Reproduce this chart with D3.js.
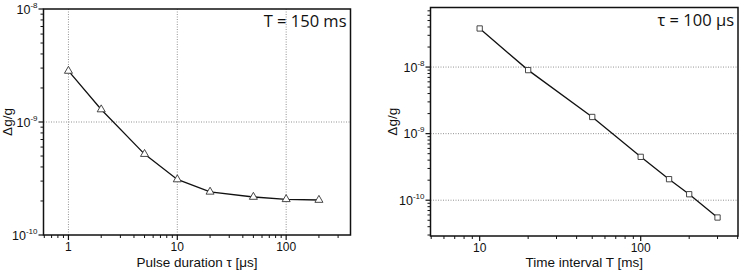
<!DOCTYPE html>
<html>
<head>
<meta charset="utf-8">
<script src="https://cdn.jsdelivr.net/npm/d3@7"></script>
<style>
  body { margin: 0; background: #fff; }
  svg text { font-family: "Liberation Sans", Arial, sans-serif; fill: #111; }
  .note { font-family: "Open Sans", "Noto Sans", sans-serif; }
</style>
</head>
<body>
<svg id="fig" width="739" height="271"></svg>
<script>
// Left panel: sensitivity vs pulse duration (T = 150 ms)
const tauValues  = [1, 2, 5, 10, 20, 50, 100, 200];
const tauDgg     = [2.83e-9, 1.29e-9, 5.2e-10, 3.1e-10, 2.41e-10, 2.17e-10, 2.07e-10, 2.04e-10];
const tauXTicks  = [1, 10, 100];
const tauYTicks  = [1e-10, 1e-9, 1e-8];

// Right panel: sensitivity vs time interval (tau = 100 us)
const tValues    = [10, 20, 50, 100, 150, 200, 300];
const tDgg       = [3.8e-8, 9.0e-9, 1.78e-9, 4.48e-10, 2.07e-10, 1.23e-10, 5.5e-11];
const tXTicks    = [10, 100];
const tYTicks    = [1e-10, 1e-9, 1e-8];

const svg = d3.select('#fig');

//------------------------------------------------------------------------
// minor ticks for a log axis between the domain ends
function minorTicks(domain) {
    let out = [];
    let lo = Math.floor(Math.log10(domain[0])), hi = Math.ceil(Math.log10(domain[1]));
    for (let e = lo; e <= hi; e++) {
        for (let m = 1; m < 10; m++) {
            let v = m * Math.pow(10, e);
            if (v >= domain[0] * 0.999 && v <= domain[1] * 1.001) out.push(v);
        }
    }
    return out;
}

//------------------------------------------------------------------------
function drawPanel(p) {
    const g = svg.append('g');
    const x = d3.scaleLog().domain(p.xDomain).range([p.left, p.right]);
    const y = d3.scaleLog().domain(p.yDomain).range([p.bottom, p.top]);

    // grid lines
    g.selectAll('.vgrid').data(p.xGrid).enter().append('line')
        .attr('x1', d => x(d)).attr('x2', d => x(d))
        .attr('y1', p.top).attr('y2', p.bottom)
        .attr('stroke', '#777').attr('stroke-width', 0.8).attr('stroke-dasharray', '1,1.5');
    g.selectAll('.hgrid').data(p.yGrid).enter().append('line')
        .attr('y1', d => y(d)).attr('y2', d => y(d))
        .attr('x1', p.left).attr('x2', p.right)
        .attr('stroke', '#777').attr('stroke-width', 0.8).attr('stroke-dasharray', '1,1.5');

    // minor ticks (bottom and left)
    const xMinor = minorTicks(p.xDomain).filter(v => !p.xTicks.includes(v));
    const yMinor = minorTicks(p.yDomain).filter(v => !p.yTicks.some(t => Math.abs(t - v) / t < 1e-6));
    g.selectAll('.xminor').data(xMinor).enter().append('line')
        .attr('x1', d => x(d)).attr('x2', d => x(d))
        .attr('y1', p.bottom).attr('y2', p.bottom + 3)
        .attr('stroke', '#111').attr('stroke-width', 1);
    g.selectAll('.yminor').data(yMinor).enter().append('line')
        .attr('y1', d => y(d)).attr('y2', d => y(d))
        .attr('x1', p.left - 3).attr('x2', p.left)
        .attr('stroke', '#111').attr('stroke-width', 1);

    // major ticks
    g.selectAll('.xmajor').data(p.xTicks).enter().append('line')
        .attr('x1', d => x(d)).attr('x2', d => x(d))
        .attr('y1', p.bottom).attr('y2', p.bottom + 5)
        .attr('stroke', '#111').attr('stroke-width', 1.2);
    g.selectAll('.ymajor').data(p.yTicks).enter().append('line')
        .attr('y1', d => y(d)).attr('y2', d => y(d))
        .attr('x1', p.left - 5).attr('x2', p.left)
        .attr('stroke', '#111').attr('stroke-width', 1.2);

    // tick labels
    g.selectAll('.xlab').data(p.xTicks).enter().append('text')
        .attr('x', d => x(d)).attr('y', p.bottom + 16)
        .attr('text-anchor', 'middle').attr('font-size', 12)
        .text(d => d);
    const yl = g.selectAll('.ylab').data(p.yTicks).enter().append('text')
        .attr('x', p.left - 6).attr('y', d => y(d) + 4.5)
        .attr('text-anchor', 'end').attr('font-size', 12.5);
    yl.append('tspan').text('10');
    yl.append('tspan').attr('dy', -6).attr('font-size', 8)
        .text(d => '-' + Math.round(-Math.log10(d)));

    // frame
    g.append('rect')
        .attr('x', p.left).attr('y', p.top)
        .attr('width', p.right - p.left).attr('height', p.bottom - p.top)
        .attr('fill', 'none').attr('stroke', '#111').attr('stroke-width', 1.5);

    // axis titles
    g.append('text')
        .attr('x', (p.left + p.right) / 2).attr('y', 267)
        .attr('text-anchor', 'middle').attr('font-size', 13.5)
        .text(p.xTitle);
    g.append('text')
        .attr('transform', `translate(${p.yTitleX},${(p.top + p.bottom) / 2}) rotate(-90)`)
        .attr('text-anchor', 'middle').attr('font-size', 13.5)
        .text('Δg/g');

    // data line and markers
    const pts = p.xs.map((v, i) => [v, p.ys[i]]);
    g.append('path').datum(pts)
        .attr('d', d3.line().x(d => x(d[0])).y(d => y(d[1])))
        .attr('fill', 'none').attr('stroke', '#111').attr('stroke-width', 1.3);
    const sym = d3.symbol().type(p.symbol).size(p.symbolSize);
    g.selectAll('.mk').data(pts).enter().append('path')
        .attr('d', sym)
        .attr('transform', d => `translate(${x(d[0])},${y(d[1])})`)
        .attr('fill', '#fff').attr('stroke', '#333').attr('stroke-width', 0.9);

    // annotation
    g.append('text').attr('class', 'note')
        .attr('x', p.right - 4).attr('y', p.top + 18)
        .attr('text-anchor', 'end').attr('font-size', 16.5)
        .text(p.note);
}

drawPanel({
    left: 43.5, right: 350.5, top: 9, bottom: 235,
    xDomain: [0.59, 390], yDomain: [1e-10, 1e-8],
    xTicks: tauXTicks, yTicks: tauYTicks,
    xGrid: tauXTicks, yGrid: [1e-9],
    xs: tauValues, ys: tauDgg,
    symbol: d3.symbolTriangle, symbolSize: 28,
    xTitle: 'Pulse duration τ [μs]', yTitleX: 12,
    note: 'T = 150 ms'
});

drawPanel({
    left: 430.5, right: 738, top: 7.5, bottom: 236,
    xDomain: [4.95, 402], yDomain: [2.9e-11, 7.85e-8],
    xTicks: tXTicks, yTicks: tYTicks,
    xGrid: [], yGrid: tYTicks,
    xs: tValues, ys: tDgg,
    symbol: d3.symbolSquare, symbolSize: 28,
    xTitle: 'Time interval T [ms]', yTitleX: 397,
    note: 'τ = 100 μs'
});
</script>
</body>
</html>
